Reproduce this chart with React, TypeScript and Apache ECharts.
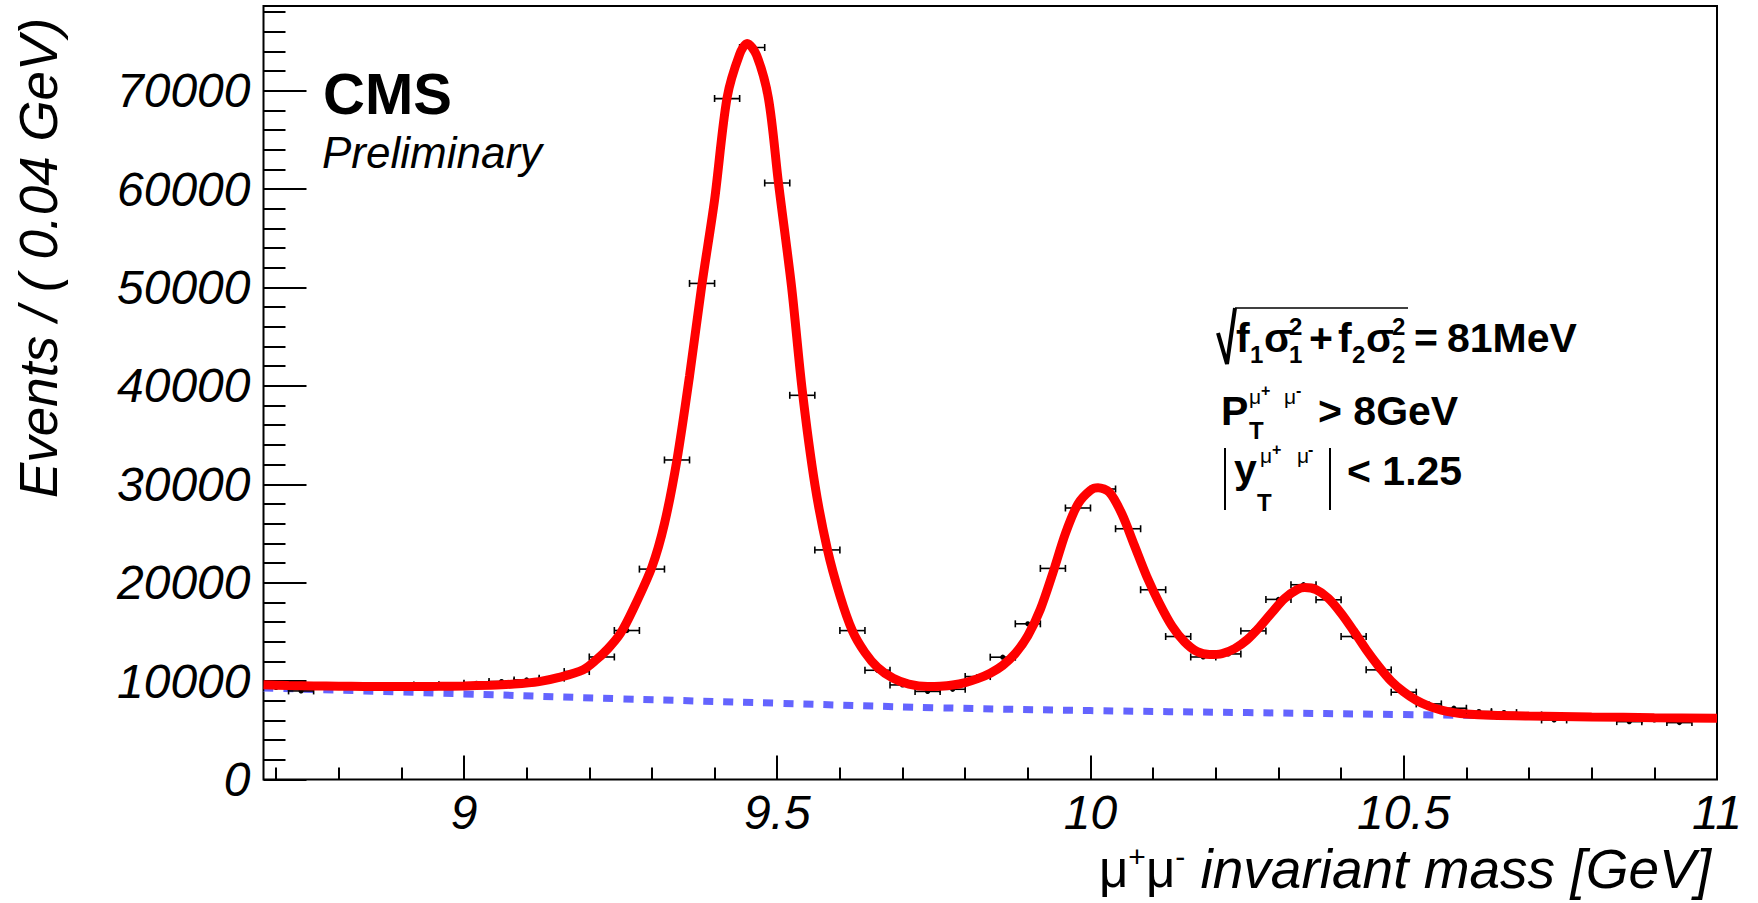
import React, { useEffect, useRef } from 'react';
import * as echarts from 'echarts';

// ---------- data ----------
const BIN_CENTERS = [
  8.70, 8.74, 8.78, 8.82, 8.86, 8.90, 8.94, 8.98, 9.02, 9.06, 9.10, 9.14, 9.18, 9.22, 9.26,
  9.30, 9.34, 9.38, 9.42, 9.46, 9.50, 9.54, 9.58, 9.62, 9.66, 9.70, 9.74, 9.78, 9.82, 9.86,
  9.90, 9.94, 9.98, 10.02, 10.06, 10.10, 10.14, 10.18, 10.22, 10.26, 10.30, 10.34, 10.38,
  10.42, 10.46, 10.50, 10.54, 10.58, 10.62, 10.66, 10.70, 10.74, 10.78, 10.82, 10.86, 10.90,
  10.94, 10.98,
];
const EVENTS = [
  9350, 9000, 9450, 9500, 9450, 9450, 9600, 9600, 9780, 9950, 10120, 10300, 10970, 12450, 15140,
  21380, 32470, 50410, 69190, 74380, 60610, 39040, 23330, 15130, 11100, 9610, 8950, 9170, 10460, 12430,
  15820, 21450, 27590, 29520, 25480, 19280, 14530, 12450, 12760, 15100, 18300, 19790, 18260,
  14530, 11140, 8870, 7680, 7240, 6900, 6800, 6560, 6050, 6390, 6390, 5880, 6050,
  5780, 6300,
];
const BIN_HALF_WIDTH = 0.02;

const FIT_MASS = [
  8.68, 8.72, 8.76, 8.80, 8.84, 8.88, 8.92, 8.96, 9.00, 9.04, 9.08, 9.12, 9.15, 9.19, 9.21,
  9.23, 9.25, 9.27, 9.30, 9.32, 9.34, 9.36, 9.38, 9.40, 9.42, 9.44, 9.452, 9.467, 9.486,
  9.502, 9.523, 9.54, 9.56, 9.58, 9.60, 9.62, 9.64, 9.66, 9.685, 9.71, 9.74, 9.76, 9.78,
  9.80, 9.82, 9.84, 9.86, 9.88, 9.90, 9.92, 9.94, 9.96, 9.98, 10.00, 10.012, 10.03, 10.05,
  10.07, 10.09, 10.11, 10.13, 10.15, 10.17, 10.19, 10.21, 10.23, 10.25, 10.27, 10.29, 10.31,
  10.33, 10.342, 10.36, 10.38, 10.40, 10.42, 10.44, 10.46, 10.48, 10.50, 10.52, 10.54, 10.56,
  10.58, 10.60, 10.64, 10.70, 10.80, 10.90, 11.00,
];
const FIT_EVENTS = [
  9620, 9560, 9510, 9480, 9460, 9450, 9450, 9470, 9510, 9580, 9700, 9950, 10350, 11140, 12100,
  13300, 14870, 17300, 21600, 26000, 32500, 41000, 50400, 58900, 69300, 73700, 74800, 73600, 69200,
  60600, 50000, 39500, 30000, 23400, 18700, 15100, 12900, 11400, 10290, 9700, 9450, 9480, 9600,
  9850, 10250, 10800, 11600, 12800, 14600, 17300, 21000, 25000, 28000, 29400, 29650, 29200, 27000,
  23800, 20600, 17900, 15600, 14000, 13000, 12700, 12800, 13300, 14200, 15500, 17000, 18400,
  19300, 19500, 19300, 18400, 16900, 15100, 13200, 11500, 10000, 8900, 8050, 7450, 7050,
  6800, 6650, 6520, 6440, 6350, 6280, 6220,
];

const BKG_MASS = [8.68, 9.0, 9.25, 9.5, 9.75, 10.0, 10.25, 10.5, 10.75, 11.0];
const BKG_EVENTS = [9300, 8700, 8200, 7750, 7300, 7000, 6800, 6600, 6400, 6220];

const X_MIN = 8.68;
const X_MAX = 11;
const Y_MIN = 0;
const Y_MAX = 78600;
const X_MAJOR = [9, 9.5, 10, 10.5, 11];
const X_MINOR = [8.7, 8.8, 8.9, 9.1, 9.2, 9.3, 9.4, 9.6, 9.7, 9.8, 9.9, 10.1, 10.2, 10.3, 10.4, 10.6, 10.7, 10.8, 10.9];
const Y_MAJOR = [0, 10000, 20000, 30000, 40000, 50000, 60000, 70000];
const Y_MINOR = [
  2000, 4000, 6000, 8000, 12000, 14000, 16000, 18000, 22000, 24000, 26000, 28000,
  32000, 34000, 36000, 38000, 42000, 44000, 46000, 48000, 52000, 54000, 56000, 58000,
  62000, 64000, 66000, 68000, 72000, 74000, 76000, 78000,
];

const FONT = '"Liberation Sans", Arial, Helvetica, sans-serif';

function txt(
  text: string, x: number, y: number, size: number,
  opts: { bold?: boolean; italic?: boolean; align?: string } = {}
) {
  return {
    type: 'text',
    x,
    y,
    silent: true,
    style: {
      text,
      fill: '#000',
      fontSize: size,
      fontFamily: FONT,
      fontWeight: opts.bold ? 'bold' : 'normal',
      fontStyle: opts.italic ? 'italic' : 'normal',
      align: opts.align || 'left',
      textAlign: opts.align || 'left',
      verticalAlign: 'middle',
      textVerticalAlign: 'middle',
    },
  };
}

export default function App() {
  const ref = useRef<HTMLDivElement>(null);

  useEffect(() => {
    document.body.style.margin = '0';
    if (!ref.current) return;
    const chart = echarts.init(ref.current, undefined, { renderer: 'svg' });

    const points = BIN_CENTERS.map((m, i) => [m, EVENTS[i]]);
    const fit = FIT_MASS.map((m, i) => [m, FIT_EVENTS[i]]);
    const bkg = BKG_MASS.map((m, i) => [m, BKG_EVENTS[i]]);

    const tickLabelStyle = {
      color: '#000',
      fontSize: 48,
      fontStyle: 'italic',
      fontFamily: FONT,
    };

    const option: any = {
      animation: false,
      backgroundColor: '#fff',
      grid: {
        left: 263.5,
        right: 41,
        top: 6,
        bottom: 123.5,
        show: true,
        borderColor: '#000',
        borderWidth: 2,
        backgroundColor: 'transparent',
      },
      xAxis: [
        {
          type: 'value',
          min: X_MIN,
          max: X_MAX,
          position: 'bottom',
          axisLine: { show: false },
          splitLine: { show: false },
          axisTick: {
            show: true,
            inside: true,
            length: 24,
            customValues: X_MAJOR,
            lineStyle: { color: '#000', width: 2 },
          },
          axisLabel: {
            show: true,
            margin: 9,
            customValues: X_MAJOR,
            showMinLabel: true,
            showMaxLabel: true,
            formatter: (v: number) => String(v),
            ...tickLabelStyle,
          },
        },
        {
          type: 'value',
          min: X_MIN,
          max: X_MAX,
          position: 'bottom',
          axisLine: { show: false },
          splitLine: { show: false },
          axisLabel: { show: false },
          axisTick: {
            show: true,
            inside: true,
            length: 12,
            customValues: X_MINOR,
            lineStyle: { color: '#000', width: 2 },
          },
        },
      ],
      yAxis: [
        {
          type: 'value',
          min: Y_MIN,
          max: Y_MAX,
          position: 'left',
          axisLine: { show: false },
          splitLine: { show: false },
          axisTick: {
            show: true,
            inside: true,
            length: 43,
            customValues: Y_MAJOR,
            lineStyle: { color: '#000', width: 2 },
          },
          axisLabel: {
            show: true,
            margin: 13,
            customValues: Y_MAJOR,
            showMinLabel: true,
            formatter: (v: number) => String(v),
            padding: [10, 0, 0, 0],
            ...tickLabelStyle,
          },
        },
        {
          type: 'value',
          min: Y_MIN,
          max: Y_MAX,
          position: 'left',
          axisLine: { show: false },
          splitLine: { show: false },
          axisLabel: { show: false },
          axisTick: {
            show: true,
            inside: true,
            length: 22,
            customValues: Y_MINOR,
            lineStyle: { color: '#000', width: 2 },
          },
        },
      ],
      series: [
        {
          name: 'background',
          type: 'line',
          xAxisIndex: 0,
          yAxisIndex: 0,
          data: bkg,
          smooth: 0.4,
          showSymbol: false,
          symbol: 'none',
          z: 2,
          lineStyle: { color: '#6464ff', width: 7, type: [10, 10] },
        },
        {
          name: 'data',
          type: 'custom',
          xAxisIndex: 0,
          yAxisIndex: 0,
          data: points,
          z: 3,
          clip: true,
          renderItem: (params: any, api: any) => {
            const x = api.value(0);
            const y = api.value(1);
            const l = api.coord([x - BIN_HALF_WIDTH, y]);
            const r = api.coord([x + BIN_HALF_WIDTH, y]);
            const c = api.coord([x, y]);
            const st = { stroke: '#000', lineWidth: 1.6 };
            return {
              type: 'group',
              children: [
                { type: 'line', shape: { x1: l[0], y1: l[1], x2: r[0], y2: r[1] }, style: st },
                { type: 'line', shape: { x1: l[0], y1: l[1] - 3.5, x2: l[0], y2: l[1] + 3.5 }, style: st },
                { type: 'line', shape: { x1: r[0], y1: r[1] - 3.5, x2: r[0], y2: r[1] + 3.5 }, style: st },
                { type: 'circle', shape: { cx: c[0], cy: c[1], r: 2.6 }, style: { fill: '#000' } },
              ],
            };
          },
        },
        {
          name: 'fit',
          type: 'line',
          xAxisIndex: 0,
          yAxisIndex: 0,
          data: fit,
          smooth: 0.3,
          showSymbol: false,
          symbol: 'none',
          z: 4,
          lineStyle: { color: '#ff0000', width: 9 },
        },
      ],
      graphic: [
        // y axis title
        {
          type: 'text',
          x: 38,
          y: 258,
          rotation: Math.PI / 2,
          silent: true,
          style: {
            text: 'Events / ( 0.04 GeV)',
            fill: '#000',
            fontSize: 53,
            fontStyle: 'italic',
            fontFamily: FONT,
            align: 'center',
            textAlign: 'center',
            verticalAlign: 'middle',
            textVerticalAlign: 'middle',
          },
        },
        // x axis title
        {
          type: 'text',
          x: 1711,
          y: 869,
          silent: true,
          style: {
            text: '{mu|μ}{sup|+}{mu|μ}{sup|-} invariant mass [GeV]',
            fill: '#000',
            fontSize: 55,
            fontStyle: 'italic',
            fontFamily: FONT,
            align: 'right',
            textAlign: 'right',
            verticalAlign: 'middle',
            textVerticalAlign: 'middle',
            rich: {
              mu: { fontSize: 51, fontStyle: 'normal', fontFamily: FONT, fill: '#000' },
              sup: { fontSize: 30, fontStyle: 'normal', fontFamily: FONT, fill: '#000', verticalAlign: 'top' },
            },
          },
        },
        // CMS Preliminary
        txt('CMS', 323, 93, 58, { bold: true }),
        txt('Preliminary', 322, 152, 44, { italic: true }),

        // line 1: sqrt(f1 s1^2 + f2 s2^2) = 81MeV
        {
          type: 'polyline',
          silent: true,
          shape: { points: [[1218, 333], [1227, 364], [1235, 308]] },
          style: { stroke: '#000', lineWidth: 4, fill: 'none' },
        },
        {
          type: 'line',
          silent: true,
          shape: { x1: 1235, y1: 308, x2: 1408, y2: 308 },
          style: { stroke: '#000', lineWidth: 1.5 },
        },
        txt('f', 1236, 338, 41, { bold: true }),
        txt('1', 1250, 354, 24, { bold: true }),
        txt('σ', 1264, 338, 41, { bold: true }),
        txt('2', 1289, 326, 24, { bold: true }),
        txt('1', 1289, 354, 24, { bold: true }),
        txt('+', 1309, 338, 41, { bold: true }),
        txt('f', 1338, 338, 41, { bold: true }),
        txt('2', 1352, 354, 24, { bold: true }),
        txt('σ', 1366, 338, 41, { bold: true }),
        txt('2', 1392, 326, 24, { bold: true }),
        txt('2', 1392, 354, 24, { bold: true }),
        txt('=', 1414, 338, 41, { bold: true }),
        txt('81MeV', 1447, 338, 41, { bold: true }),

        // line 2: P_T^{mu+ mu-} > 8GeV
        txt('P', 1221, 411, 41, { bold: true }),
        txt('μ', 1249, 396, 21),
        txt('+', 1261, 390, 16, { bold: true }),
        txt('μ', 1284, 396, 21),
        txt('-', 1296, 390, 16, { bold: true }),
        txt('T', 1249, 430, 24, { bold: true }),
        txt('> 8GeV', 1318, 411, 41, { bold: true }),

        // line 3: |y_T^{mu+ mu-}| < 1.25
        {
          type: 'line',
          silent: true,
          shape: { x1: 1225, y1: 448, x2: 1225, y2: 510 },
          style: { stroke: '#000', lineWidth: 2 },
        },
        {
          type: 'line',
          silent: true,
          shape: { x1: 1330, y1: 448, x2: 1330, y2: 510 },
          style: { stroke: '#000', lineWidth: 2 },
        },
        txt('y', 1234, 469, 41, { bold: true }),
        txt('μ', 1260, 455, 21),
        txt('+', 1272, 449, 16, { bold: true }),
        txt('μ', 1297, 455, 21),
        txt('-', 1308, 449, 16, { bold: true }),
        txt('T', 1257, 502, 24, { bold: true }),
        txt('< 1.25', 1347, 471, 41, { bold: true }),
      ],
    };

    chart.setOption(option);
    return () => {
      chart.dispose();
    };
  }, []);

  return <div ref={ref} style={{ width: 1758, height: 903 }} />;
}
